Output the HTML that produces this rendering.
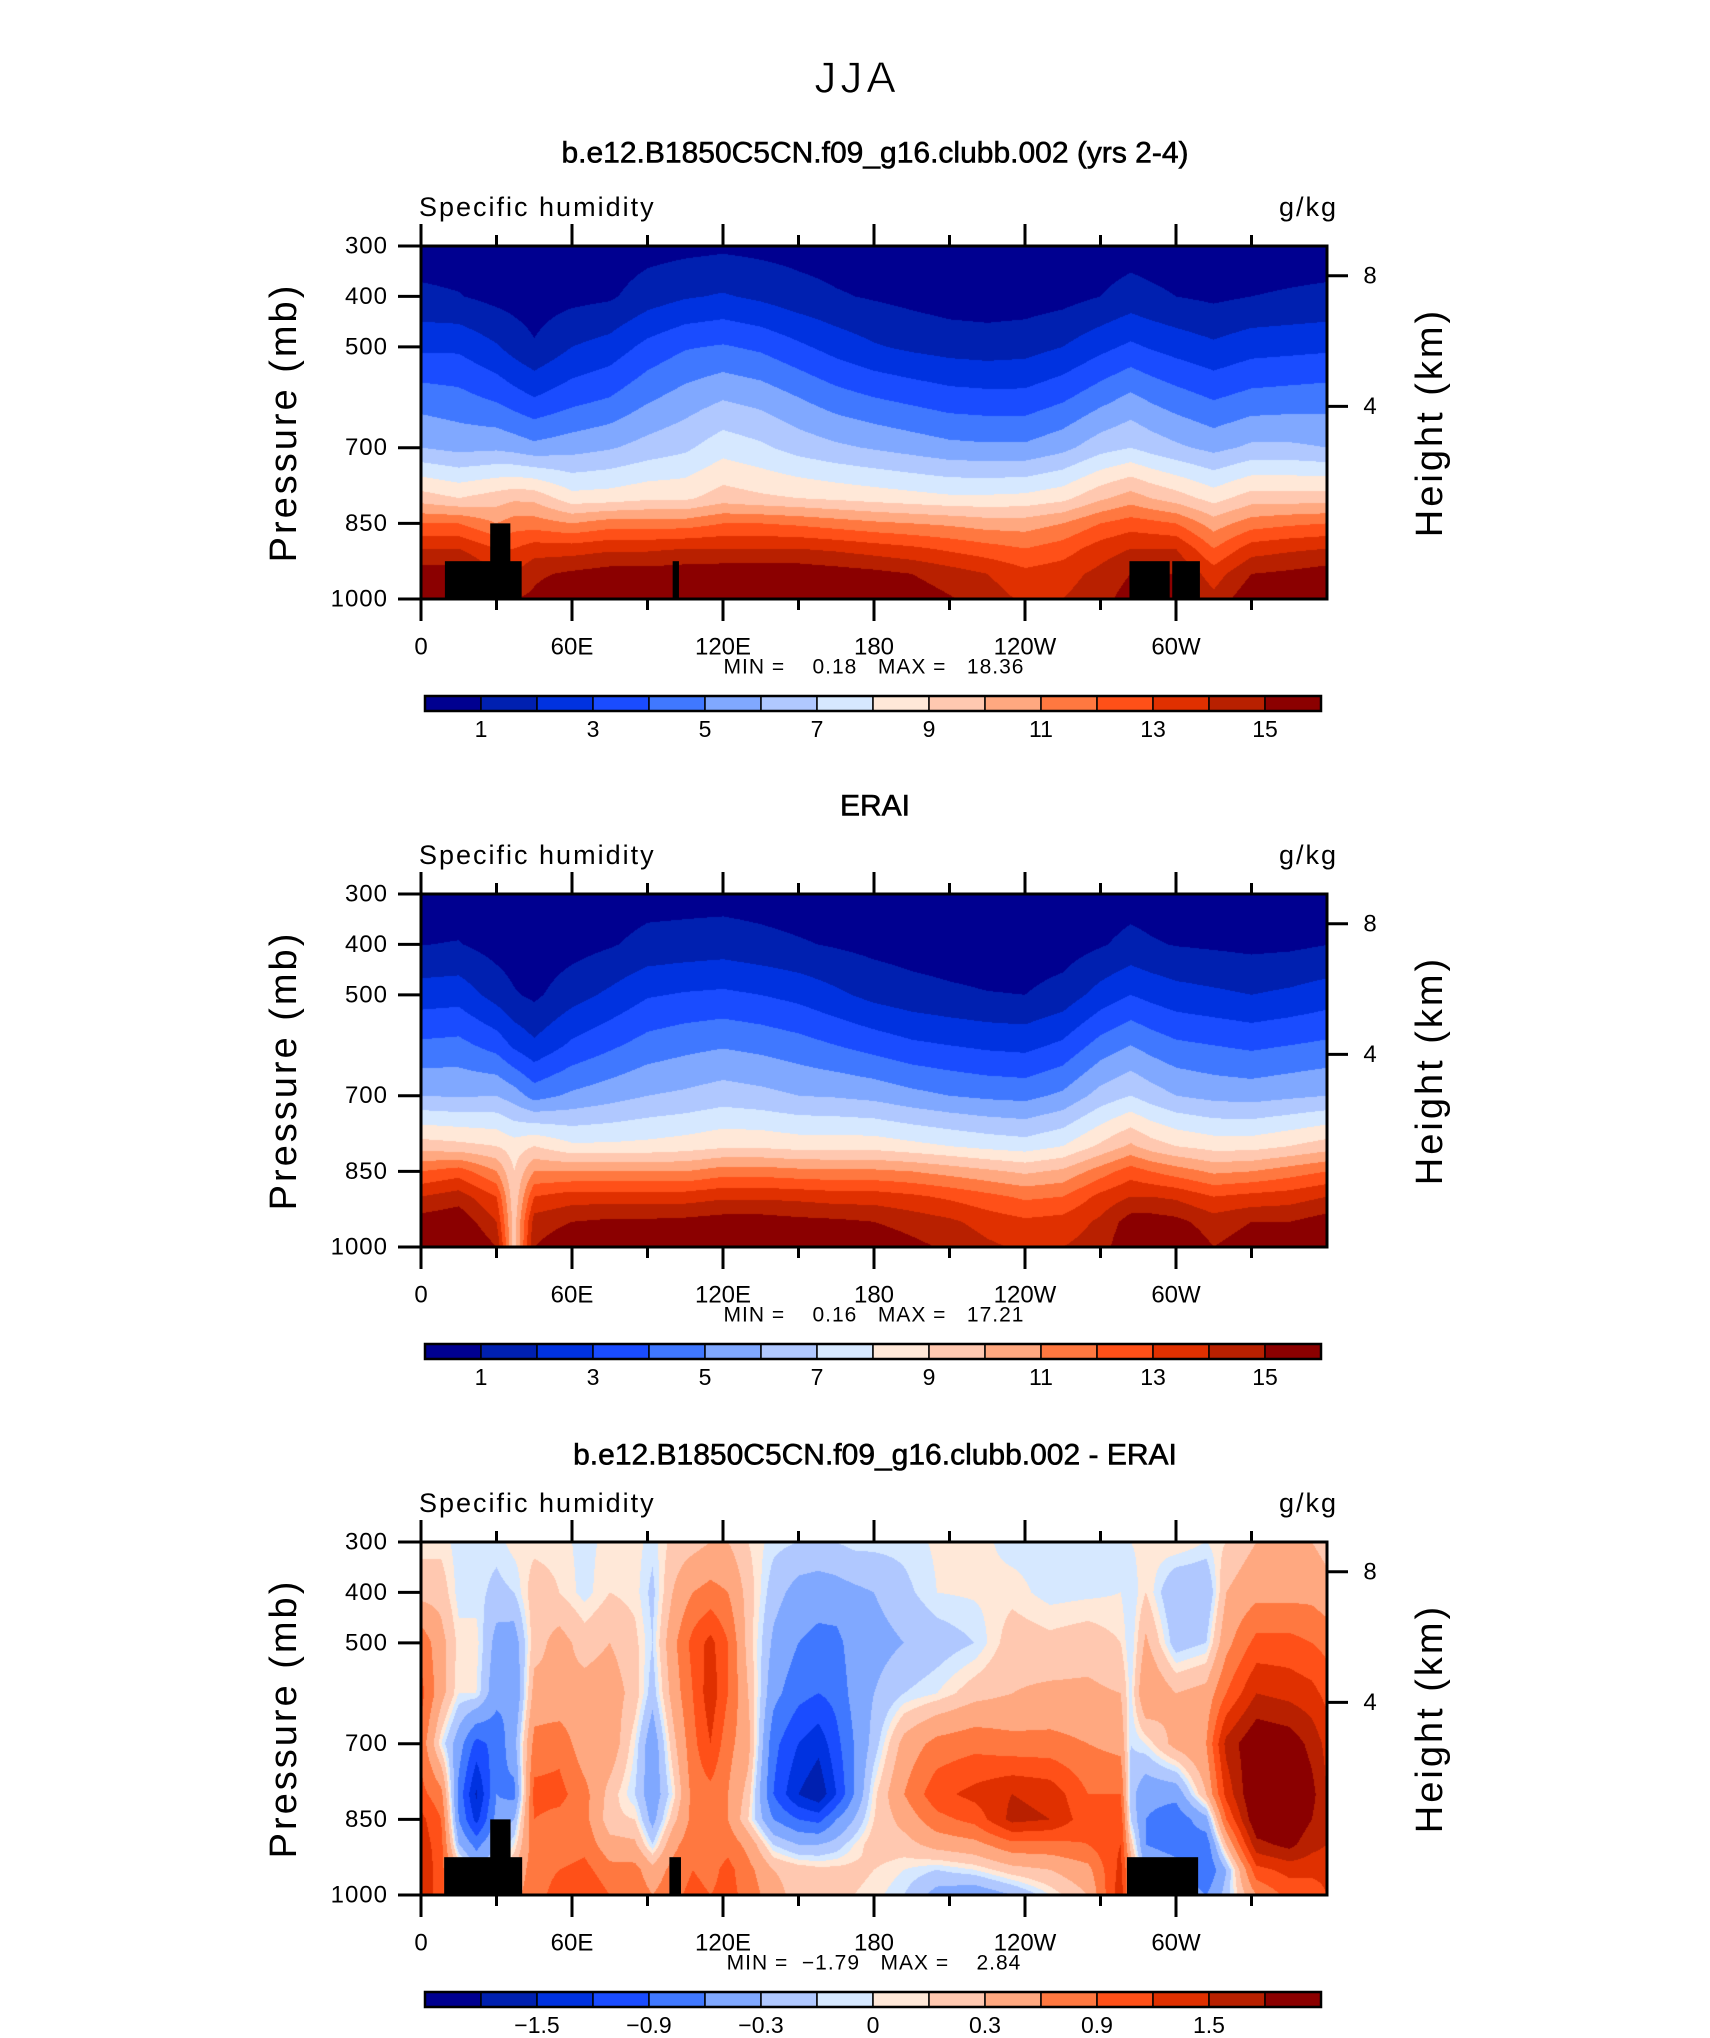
<!DOCTYPE html>
<html><head><meta charset="utf-8">
<style>
html,body{margin:0;padding:0;background:#fff;}
body{width:1710px;height:2038px;position:relative;overflow:hidden;font-family:"Liberation Sans",sans-serif;}
canvas{position:absolute;}
svg{position:absolute;left:0;top:0;}
</style></head>
<body>
<div id="root"></div>
<script>
// ---------- data ----------
const levels = [300,400,500,600,700,800,850,900,950,1000];
const qLons = [0,15,30,37,45,60,75,90,105,120,135,150,165,180,195,210,225,240,255,270,282,290,300,315,330,345,360];
const modelQ = [
[0.5,1.2,2.8,4.5,6.0,9.5,12,14,15.5,16.5],
[0.5,1.05,2.8,4.3,5.7,9,12,14,15.5,16],
[0.4,0.7,2.1,3.8,5.8,9.5,11,13,14,15],
[0.35,0.6,1.6,3.4,5.6,9.8,11.5,13,14,15],
[0.3,0.5,1.1,3,5.3,9.7,11.5,13.5,14.8,15.2],
[0.4,0.7,2,3.6,5.6,8.4,11,13.5,15.2,16],
[0.4,0.85,2.4,4,5.9,8.5,11.5,13.8,15.5,16.2],
[0.6,1.5,3.3,4.8,6.4,8.8,11.5,13.8,15.5,16.3],
[0.7,1.9,3.9,5.4,6.8,8.8,11.5,14,15.6,16.3],
[0.8,2.1,4.1,5.9,7.6,9.5,12,14,15.7,16.4],
[0.7,1.8,3.8,5.6,7.2,9.2,12,14,15.7,16.4],
[0.6,1.4,3.2,5,6.6,9,11.8,14,15.7,16.3],
[0.5,1.1,2.6,4.4,6.2,8.8,11.5,13.8,15.5,16.2],
[0.4,0.9,2.1,4,5.9,8.6,11.2,13.5,15.3,16],
[0.35,0.7,1.8,3.7,5.6,8.4,11,13.2,15,15.6],
[0.3,0.5,1.6,3.4,5.3,8.2,10.8,12.8,14.5,15.1],
[0.3,0.45,1.5,3.3,5.2,8.2,10.5,12.4,14,14.5],
[0.3,0.5,1.6,3.3,5.2,8.3,10.5,12,13.3,13.8],
[0.35,0.65,2,3.8,5.7,8.7,11,12.5,13.6,14],
[0.45,1,2.7,4.6,6.6,9.8,12,13.5,14.3,14.6],
[0.55,1.4,3.2,5.2,7,10.5,12.5,14,15,15.5],
[0.5,1.2,2.9,4.8,6.6,10,12.3,14,15,15.5],
[0.45,1,2.6,4.4,6.2,9.5,12,14,15,15.5],
[0.4,0.8,2.2,3.9,5.7,8.6,10.5,12,13.5,14.3],
[0.45,1,2.6,4.3,6.2,9.5,11.5,13.5,15,15.8],
[0.5,1.1,2.7,4.4,6.2,9.5,11.8,13.8,15.2,16],
[0.5,1.2,2.8,4.5,6.0,9.5,12,14,15.5,16.5]];
const eraiQ = [
[0.4,0.98,2.5,4.2,6,9.5,12,14,15.5,16.3],
[0.45,1.05,2.6,4.3,5.9,9.3,12.5,14.5,15.8,16.6],
[0.3,0.6,1.6,3.6,6,9,11,13,14,15],
[0.25,0.45,1.1,2.8,5.5,8.5,9,9.2,9.5,9.5],
[0.2,0.35,0.8,2.2,4.6,9,11,13,14.5,15],
[0.3,0.6,1.6,3.2,5.2,8.2,11,13.5,15,15.8],
[0.45,0.9,2.2,3.8,5.6,8.2,11,13.5,15.2,16],
[0.6,1.3,2.9,4.4,6,8.3,11,13.5,15.2,16.2],
[0.6,1.4,3.1,4.7,6.2,8.5,11,13.5,15.3,16.3],
[0.6,1.5,3.2,4.9,6.5,8.8,11.5,13.8,15.5,16.3],
[0.55,1.3,3,4.7,6.3,8.8,11.5,13.8,15.5,16.3],
[0.45,1.1,2.7,4.4,6,8.6,11.3,13.7,15.3,16.2],
[0.38,0.9,2.2,4,5.9,8.6,11.2,13.5,15.2,16],
[0.3,0.7,1.7,3.6,5.7,8.6,11.2,13.5,15,15.8],
[0.25,0.55,1.4,3.2,5.3,8.3,11,13.2,14.6,15.3],
[0.22,0.45,1.2,3,5,8,10.6,12.8,14.2,14.8],
[0.2,0.4,1.05,2.8,4.8,7.7,10.2,12.3,13.6,14.2],
[0.2,0.4,1,2.7,4.7,7.5,9.8,11.8,13.2,13.8],
[0.25,0.5,1.4,3.2,5.2,8,10.2,12,13.4,14],
[0.4,0.9,2.4,4.4,6.4,9.2,11.5,13.3,14.2,14.5],
[0.55,1.3,3,5,7,10.2,12.5,14,15.5,16],
[0.5,1.1,2.7,4.6,6.5,9.5,12,14,15.5,16.3],
[0.45,0.95,2.4,4.2,6,9,11.5,13.8,15.3,16],
[0.4,0.85,2.2,4,5.7,8.6,10.8,13,14.5,15],
[0.35,0.75,2,3.8,5.6,8.6,11,13.3,15,15.5],
[0.35,0.8,2.2,4,5.8,9,11.5,13.5,15,15.8],
[0.4,0.98,2.5,4.2,6,9.5,12,14,15.5,16.3]];
const diffLons = [0,8,15,22,30,37,45,55,65,75,85,92,100,108,115,122,130,140,150,158,165,172,180,192,205,220,235,250,265,278,282,288,300,312,320,332,345,354,360];
const diffQ = [
[0.05,0.2,0.8,1.0,0.8,1.0,1.3,1.4,1.5,1.5],
[0.05,0.2,0.4,0.4,0.0,0.7,0.9,1.0,1.0,1.0],
[-0.05,-0.05,0.05,0.0,-0.45,-0.7,-0.6,-0.3,0.3,0.5],
[-0.05,-0.05,0.05,0.0,-1.0,-1.55,-1.3,-0.7,-0.3,0.0],
[-0.05,-0.15,-0.4,-0.5,-0.8,-0.6,-0.5,-0.3,0,0],
[0.05,-0.1,-0.45,-0.6,-0.4,-0.7,-0.3,0,0.3,0.5],
[0.05,0.2,0.2,0.4,0.7,1.0,0.9,0.8,0.8,0.8],
[0.05,0.1,0.4,0.35,0.8,1.0,0.8,0.7,0.9,1.0],
[-0.05,-0.05,0.2,0.4,0.4,0.7,0.7,0.8,1.0,1.2],
[0.05,0.1,0.3,0.45,0.5,0.2,0.15,0.4,0.7,0.9],
[0.05,0.05,0.15,0.2,0.0,-0.1,0.1,0.35,0.7,0.8],
[-0.05,-0.15,-0.1,-0.2,-0.5,-0.5,-0.4,-0.1,0.4,0.6],
[0.15,0.3,0.5,0.4,0.2,0.0,0.2,0.5,0.7,0.8],
[0.2,0.6,1.0,0.9,0.8,0.7,0.7,0.8,0.9,1.0],
[0.3,0.7,1.3,1.4,1.2,0.8,0.7,0.7,0.8,0.9],
[0.3,0.6,0.9,0.9,0.7,0.6,0.6,0.8,1.0,1.0],
[0.1,0.2,0.2,0.3,0.4,0.2,0.1,0.5,0.7,0.8],
[-0.05,-0.2,-0.35,-0.5,-0.8,-0.9,-0.6,-0.1,0.3,0.4],
[-0.1,-0.4,-0.6,-0.8,-1.2,-1.5,-0.9,-0.3,0.2,0.2],
[-0.1,-0.45,-0.7,-0.9,-1.4,-1.75,-1.0,-0.3,0.15,0.2],
[-0.1,-0.4,-0.7,-0.8,-1.0,-1.2,-0.6,-0.2,0.15,0.1],
[-0.05,-0.35,-0.45,-0.5,-0.6,-0.6,-0.3,0.0,0.15,0.1],
[-0.05,-0.3,-0.4,-0.3,-0.2,0.05,0.1,0.2,0.1,0.05],
[-0.05,-0.15,-0.3,-0.1,0.4,0.6,0.4,0.2,0.0,-0.1],
[0.02,0.0,-0.2,0.0,0.7,1.1,0.8,0.4,-0.1,-0.4],
[0.05,0.02,-0.1,0.2,0.8,1.3,1.0,0.5,0.0,-0.5],
[-0.05,0.05,0.2,0.3,0.7,1.5,1.6,0.8,0.2,-0.3],
[-0.05,-0.05,0.15,0.35,0.7,1.4,1.5,0.8,0.3,0.0],
[-0.05,-0.03,0.2,0.35,0.6,0.9,1.0,0.9,0.5,0.3],
[-0.05,0.0,0.1,0.3,0.5,0.9,1.1,1.2,1.3,1.4],
[0,-0.1,-0.1,-0.05,-0.1,-0.2,-0.1,0.2,0.5,0.5],
[0.05,0.1,0.35,0.6,0.0,-0.5,-0.6,-0.6,-0.4,-0.3],
[0.1,-0.3,-0.2,0.3,0.4,-0.5,-0.8,-0.7,-0.5,-0.3],
[0.0,-0.3,-0.1,0.4,0.6,0.3,-0.4,-0.8,-0.9,-0.6],
[0.1,0.3,0.5,0.9,1.6,1.3,0.9,0.3,-0.3,-0.2],
[0.3,0.5,1.0,1.5,2.1,2.2,2.1,1.7,1.1,0.6],
[0.3,0.5,1.0,1.4,2.0,2.2,2.1,1.9,1.3,1.0],
[0.3,0.5,0.9,1.3,1.7,1.9,1.8,1.6,1.3,1.0],
[0.2,0.4,0.8,1.1,1.4,1.5,1.5,1.5,1.3,1.2]];
// missing-data (topography) boxes: [lonStart, lonEnd, topPressure]
const maskModel = [[9.5,40,925],[27.5,35.5,850],[100,102.5,925],[281.5,297.5,925],[298.5,309.5,925]];
const maskDiff = [[9.2,40.2,925],[27.5,35.6,850],[98.7,103.3,925],[280.5,308.8,925]];
const qBounds = [1,2,3,4,5,6,7,8,9,10,11,12,13,14,15];
const qLabels = ["1","3","5","7","9","11","13","15"];
const diffBounds = [-1.8,-1.5,-1.2,-0.9,-0.6,-0.3,-0.1,0,0.1,0.3,0.6,0.9,1.2,1.5,1.8];
const diffLabels = ["\u22121.5","\u22120.9","\u22120.3","0","0.3","0.9","1.5"];
const xTickLons = [0,60,120,180,240,300];
const xTickLabels = ["0","60E","120E","180","120W","60W"];
const yTicks = [300,400,500,700,850,1000];
const hTicks = [[8,359],[4,618]];
const colors = ["#000090","#0020b0","#0032e0","#1a4cff","#4078ff","#80a8ff","#b0c8ff","#d6e8ff","#ffe8d8","#ffc8b0","#ffa880","#ff7840","#ff5018","#e03000","#b82000","#8b0000"];

// ---------- layout ----------
const PX=421, PW=906, PH=353;
const panelTops=[246,894,1542];
const NS="http://www.w3.org/2000/svg";
const svg=document.createElementNS(NS,"svg");
svg.setAttribute("width","1710");svg.setAttribute("height","2038");


function xOf(lon){return PX+lon/360*PW;}
function yOf(p,T){return T+(p-300)/700*PH;}
function txt(x,y,s,size,anchor,name,extra){
  const t=document.createElementNS(NS,"text");
  t.setAttribute("x",x);t.setAttribute("y",y);
  t.setAttribute("font-size",size);t.setAttribute("text-anchor",anchor||"middle");
  t.setAttribute("dominant-baseline","central");
  t.setAttribute("font-family","Liberation Sans, sans-serif");
  if(extra)for(const k in extra)t.setAttribute(k,extra[k]);
  t.textContent=s;
  
  
  svg.appendChild(t);return t;
}
function line(x1,y1,x2,y2,w,name){
  const l=document.createElementNS(NS,"line");
  l.setAttribute("x1",x1);l.setAttribute("y1",y1);l.setAttribute("x2",x2);l.setAttribute("y2",y2);
  l.setAttribute("stroke","#000");l.setAttribute("stroke-width",w);
  
  
  svg.appendChild(l);
}
function rect(x,y,w,h,fill,stroke,sw,name){
  const r=document.createElementNS(NS,"rect");
  r.setAttribute("x",x);r.setAttribute("y",y);r.setAttribute("width",w);r.setAttribute("height",h);
  r.setAttribute("fill",fill);
  if(stroke){r.setAttribute("stroke",stroke);r.setAttribute("stroke-width",sw);}
  
  
  svg.appendChild(r);
}
function locate(arr,v){
  let i=0;while(i<arr.length-2&&v>arr[i+1])i++;
  let w=(v-arr[i])/(arr[i+1]-arr[i]);w=Math.max(0,Math.min(1,w));
  return [i,w];
}
function drawField(T,lons,field,bounds,name){
  const c=document.createElement("canvas");
  c.width=PW;c.height=PH;c.style.left=PX+"px";c.style.top=T+"px";
  
  
  document.body.appendChild(c);
  const ctx=c.getContext("2d");const img=ctx.createImageData(PW,PH);
  const rgb=colors.map(h=>[parseInt(h.substr(1,2),16),parseInt(h.substr(3,2),16),parseInt(h.substr(5,2),16)]);
  const cols=[];for(let x=0;x<PW;x++)cols.push(locate(lons,(x+0.5)/PW*360));
  for(let y=0;y<PH;y++){
    const [j,wy]=locate(levels,300+(y+0.5)/PH*700);
    for(let x=0;x<PW;x++){
      const [i,wx]=cols[x];
      const a=field[i][j]*(1-wy)+field[i][j+1]*wy;
      const b=field[i+1][j]*(1-wy)+field[i+1][j+1]*wy;
      const v=a*(1-wx)+b*wx;
      let k=0;while(k<bounds.length&&v>=bounds[k])k++;
      const o=(y*PW+x)*4;img.data[o]=rgb[k][0];img.data[o+1]=rgb[k][1];img.data[o+2]=rgb[k][2];img.data[o+3]=255;
    }
  }
  ctx.putImageData(img,0,0);
}
function panel(T,lons,field,bounds,masks,minmax,labels,labelIdx,pname){
  drawField(T,lons,field,bounds,pname+"-contour-field");
  if(masks)masks.forEach(m=>{
    rect(xOf(m[0]),yOf(m[2],T),xOf(m[1])-xOf(m[0]),yOf(1000,T)-yOf(m[2],T),"#000",null,0,pname+"-topography-mask");
  });
  rect(PX,T,PW,PH,"none","#000",3,pname+"-frame");
  txt(419,T-39,"Specific humidity",27,"start",pname+"-variable-label",{"letter-spacing":"2"});
  txt(1338,T-39,"g/kg",27,"end",pname+"-units-label",{"letter-spacing":"2"});
  yTicks.forEach(p=>{line(PX-23,yOf(p,T),PX,yOf(p,T),3,pname+"-y-tick");
    txt(PX-33,yOf(p,T),String(p),24,"end",pname+"-y-tick-label",{"letter-spacing":"1"});});
  for(let lon=0;lon<=330;lon+=30){
    const major=lon%60===0,len=major?22:11;
    line(xOf(lon),T+PH,xOf(lon),T+PH+len,3,pname+"-x-tick");
    line(xOf(lon),T-len,xOf(lon),T,3,pname+"-x-tick-top");
  }
  xTickLons.forEach((lon,i)=>txt(xOf(lon),T+PH+48,xTickLabels[i],24,"middle",pname+"-x-tick-label"));
  hTicks.forEach(h=>{line(PX+PW,yOf(h[1],T),PX+PW+21,yOf(h[1],T),3,pname+"-height-tick");
    txt(PX+PW+43,yOf(h[1],T),String(h[0]),24,"middle",pname+"-height-tick-label");});
  txt(284,T+PH/2,"Pressure (mb)",38,"middle",pname+"-y-axis-title",{transform:`rotate(-90 284 ${T+PH/2})`,"letter-spacing":"3"});
  txt(1430,T+PH/2,"Height (km)",38,"middle",pname+"-height-axis-title",{transform:`rotate(-90 1430 ${T+PH/2})`,"letter-spacing":"3"});
  txt(874,T+421,minmax,21,"middle",pname+"-min-max",{"xml:space":"preserve","style":"white-space:pre","letter-spacing":"1"});
  // colorbar
  const cy=T+450,cw=56;
  for(let k=0;k<16;k++)rect(425+k*cw,cy,cw,15,colors[k],"#000",1.5,pname+"-colorbar-cell");
  rect(425,cy,16*cw,15,"none","#000",2.5,pname+"-colorbar-frame");
  labels.forEach((s,i)=>txt(425+labelIdx[i]*cw,cy+33,s,23,"middle",pname+"-colorbar-label"));
}
txt(857,78,"JJA",44,"middle","figure-title",{"letter-spacing":"4","stroke":"#fff","stroke-width":"0.8"});
txt(875,153,"b.e12.B1850C5CN.f09_g16.clubb.002 (yrs 2-4)",30,"middle","panel1-title",{"stroke":"#000","stroke-width":"0.6"});
txt(875,806,"ERAI",30,"middle","panel2-title",{"stroke":"#000","stroke-width":"0.6"});
txt(875,1455,"b.e12.B1850C5CN.f09_g16.clubb.002 - ERAI",30,"middle","panel3-title",{"stroke":"#000","stroke-width":"0.6"});
panel(panelTops[0],qLons,modelQ,qBounds,maskModel,"MIN =    0.18   MAX =   18.36",qLabels,[1,3,5,7,9,11,13,15],"model");
panel(panelTops[1],qLons,eraiQ,qBounds,null,"MIN =    0.16   MAX =   17.21",qLabels,[1,3,5,7,9,11,13,15],"erai");
panel(panelTops[2],diffLons,diffQ,diffBounds,maskDiff,"MIN =  \u22121.79   MAX =    2.84",diffLabels,[2,4,6,8,10,12,14],"diff");
document.body.appendChild(svg);
</script>
</body></html>
